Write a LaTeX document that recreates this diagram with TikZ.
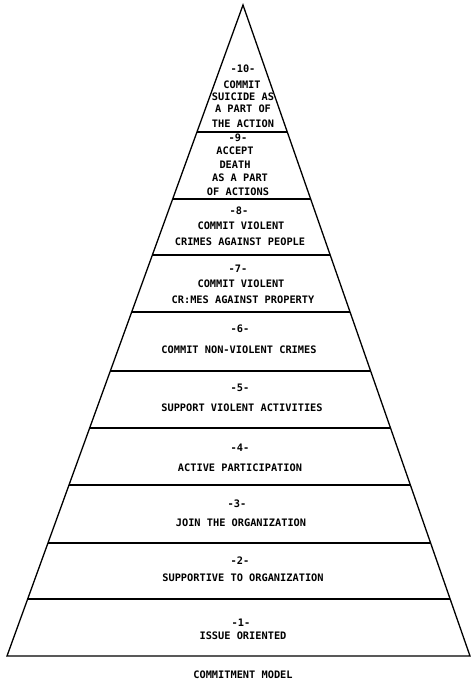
\documentclass[tikz,border=0pt]{standalone}
\usepackage{fontspec}
\setmonofont{DejaVu Sans Mono}
\usetikzlibrary{calc}
\tikzset{
  txt/.style={font=\ttfamily\bfseries\fontsize{10.3}{12}\selectfont, inner sep=0pt, anchor=base},
  edge/.style={line width=1.3pt, line join=miter},
  level/.style={line width=1.3pt}
}
\begin{document}
\begin{tikzpicture}[x=1pt,y=-1pt]
\useasboundingbox (0,0) rectangle (472,679);
\coordinate (apex) at (243,5);
\coordinate (bl) at (7,656);
\coordinate (br) at (470,656);
\draw[edge] (bl) -- (apex) -- (br) -- cycle;
% level separators
\foreach \yy/\nm in {132/a,199/b,255/c,312/d,371/e,428/f,485/g,543/h,599/i}{
  \pgfmathsetmacro{\tt}{(\yy-5)/651}
  \coordinate (L\nm) at ($(apex)!\tt!(bl)$);
  \coordinate (R\nm) at ($(apex)!\tt!(br)$);
  \draw[level] (L\nm) -- (R\nm);
}
% level 10
\node[txt] (t10n) at (243,73) {-10-};
\node[txt] (t10a) at (242,89) {COMMIT};
\node[txt] (t10b) at (243,101) {SUICIDE AS};
\node[txt] (t10c) at (243,113) {A PART OF};
\node[txt] (t10d) at (243,128) {THE ACTION};
% level 9
\node[txt] (t9n) at (238,142) {-9-};
\node[txt] (t9a) at (235,154) {ACCEPT};
\node[txt] (t9b) at (235,168) {DEATH};
\node[txt] (t9c) at (240,182) {AS A PART};
\node[txt] (t9d) at (238,195) {OF ACTIONS};
% level 8
\node[txt] (t8n) at (239,214) {-8-};
\node[txt] (t8a) at (241,229) {COMMIT VIOLENT};
\node[txt] (t8b) at (240,245) {CRIMES AGAINST PEOPLE};
% level 7
\node[txt] (t7n) at (238,272) {-7-};
\node[txt] (t7a) at (241,287) {COMMIT VIOLENT};
\node[txt] (t7b) at (243,303) {CR:MES AGAINST PROPERTY};
% level 6
\node[txt] (t6n) at (240,332) {-6-};
\node[txt] (t6a) at (239,353) {COMMIT NON-VIOLENT CRIMES};
% level 5
\node[txt] (t5n) at (240,391) {-5-};
\node[txt] (t5a) at (242,411) {SUPPORT VIOLENT ACTIVITIES};
% level 4
\node[txt] (t4n) at (240,451) {-4-};
\node[txt] (t4a) at (240,471) {ACTIVE PARTICIPATION};
% level 3
\node[txt] (t3n) at (237,507) {-3-};
\node[txt] (t3a) at (241,526) {JOIN THE ORGANIZATION};
% level 2
\node[txt] (t2n) at (240,564) {-2-};
\node[txt] (t2a) at (243,581) {SUPPORTIVE TO ORGANIZATION};
% level 1
\node[txt] (t1n) at (241,626) {-1-};
\node[txt] (t1a) at (243,639) {ISSUE ORIENTED};
% caption
\node[txt] (cap) at (243,678) {COMMITMENT MODEL};
\end{tikzpicture}
\end{document}
